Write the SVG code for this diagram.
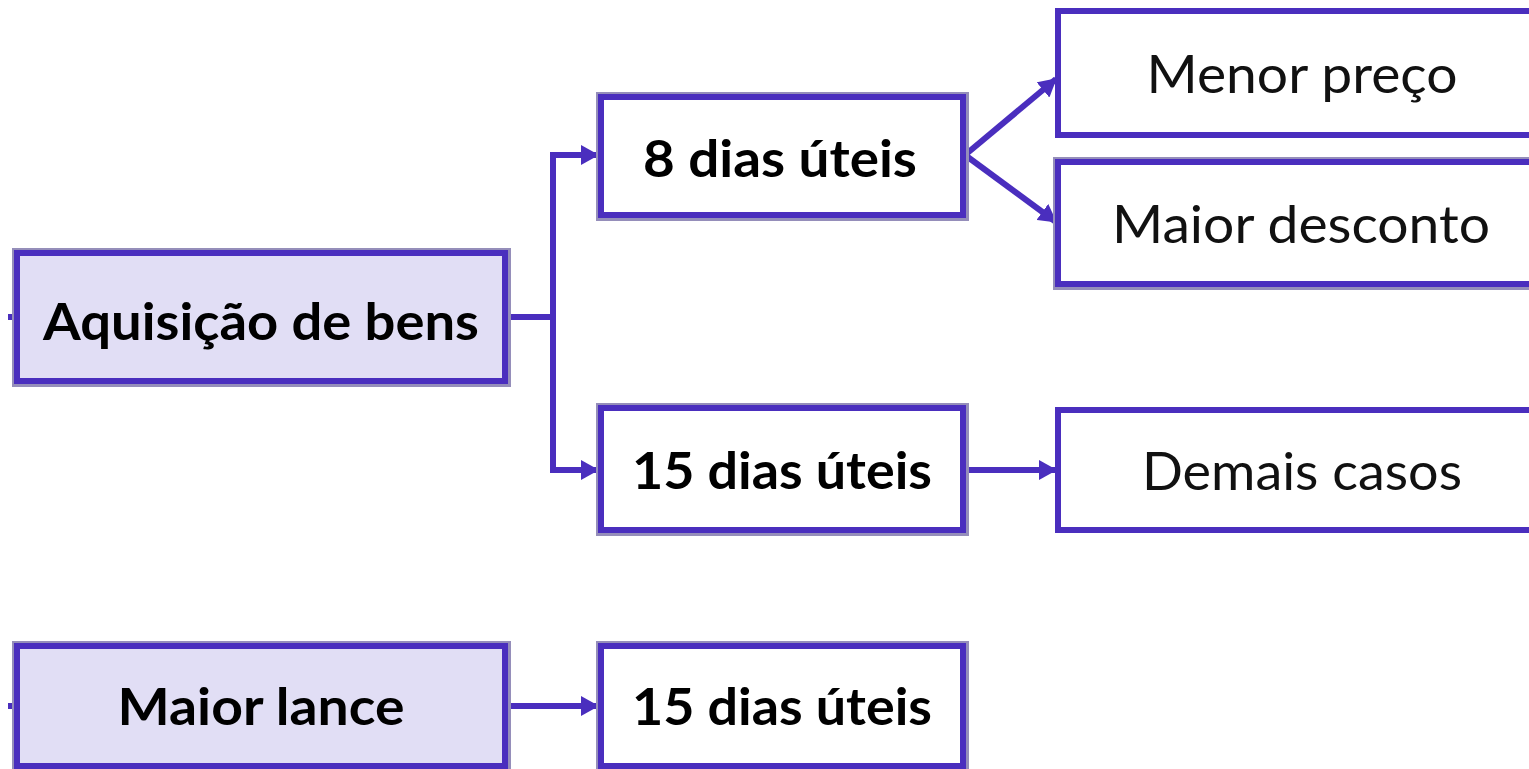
<svg xmlns="http://www.w3.org/2000/svg" width="1529" height="769" viewBox="0 0 1529 769">
<style>
.shadow{fill:none;stroke:#958EBA;stroke-width:8}
.box{stroke:#4A2EBE;stroke-width:6}
.main{fill:#E1DEF5}
.sub{fill:#FFFFFF}
.b{font-family:Lato,"Open Sans",sans-serif;font-weight:bold;font-size:52px;fill:#000;text-anchor:middle}
.r{font-family:Lato,"Open Sans",sans-serif;font-size:52px;fill:#111;text-anchor:middle}
.c{fill:none;stroke:#4A2EBE;stroke-width:6}
</style>
<defs>
<marker id="ah" markerUnits="userSpaceOnUse" markerWidth="18" markerHeight="20" refX="17" refY="10" orient="auto">
<path d="M0,0 L18,10 L0,20 Z" fill="#4A2EBE"/>
</marker>
</defs>
<rect width="1529" height="769" fill="#FFFFFF"/>
<g id="connectors">
<path class="c" d="M8,317 H15"/>
<path class="c" d="M8,706 H15"/>
<path class="c" d="M507,317 H553"/>
<path class="c" d="M553,152 V473"/>
<path class="c" d="M550,155 H598" marker-end="url(#ah)"/>
<path class="c" d="M550,470 H598" marker-end="url(#ah)"/>
<path class="c" d="M965,155 L1056,79" marker-end="url(#ah)"/>
<path class="c" d="M965,155 L1056,222" marker-end="url(#ah)"/>
<path class="c" d="M965,470 H1056" marker-end="url(#ah)"/>
<path class="c" d="M507,706 H598" marker-end="url(#ah)"/>
</g>
<g id="n-aquisicao">
<rect class="shadow" x="16" y="252" width="491" height="131"/>
<rect class="box main" x="17" y="253" width="488" height="128"/>
<text class="b" x="261" y="340" textLength="436" lengthAdjust="spacingAndGlyphs">Aquisição de bens</text>
</g>
<g id="n-8dias">
<rect class="shadow" x="600" y="96" width="365" height="121"/>
<rect class="box sub" x="601" y="97" width="362" height="118"/>
<text class="b" x="780" y="177" textLength="274" lengthAdjust="spacingAndGlyphs">8 dias úteis</text>
</g>
<g id="n-15dias">
<rect class="shadow" x="600" y="407" width="365" height="125"/>
<rect class="box sub" x="601" y="408" width="362" height="122"/>
<text class="b" x="782" y="489" textLength="300" lengthAdjust="spacingAndGlyphs">15 dias úteis</text>
</g>
<g id="n-menor-preco">
<rect class="box sub" x="1058" y="11" width="500" height="124"/>
<text class="r" x="1302" y="93" textLength="311" lengthAdjust="spacingAndGlyphs">Menor preço</text>
</g>
<g id="n-maior-desconto">
<rect class="shadow" x="1057" y="161" width="502" height="125"/>
<rect class="box sub" x="1058" y="162" width="500" height="122"/>
<text class="r" x="1301" y="243" textLength="378" lengthAdjust="spacingAndGlyphs">Maior desconto</text>
</g>
<g id="n-demais-casos">
<rect class="box sub" x="1058" y="410" width="500" height="120"/>
<text class="r" x="1302" y="490" textLength="320" lengthAdjust="spacingAndGlyphs">Demais casos</text>
</g>
<g id="n-maior-lance">
<rect class="shadow" x="16" y="645" width="491" height="123"/>
<rect class="box main" x="17" y="646" width="488" height="120"/>
<text class="b" x="261" y="725" textLength="287" lengthAdjust="spacingAndGlyphs">Maior lance</text>
</g>
<g id="n-15dias-lance">
<rect class="shadow" x="600" y="645" width="365" height="123"/>
<rect class="box sub" x="601" y="646" width="362" height="120"/>
<text class="b" x="782" y="725" textLength="300" lengthAdjust="spacingAndGlyphs">15 dias úteis</text>
</g>
</svg>
